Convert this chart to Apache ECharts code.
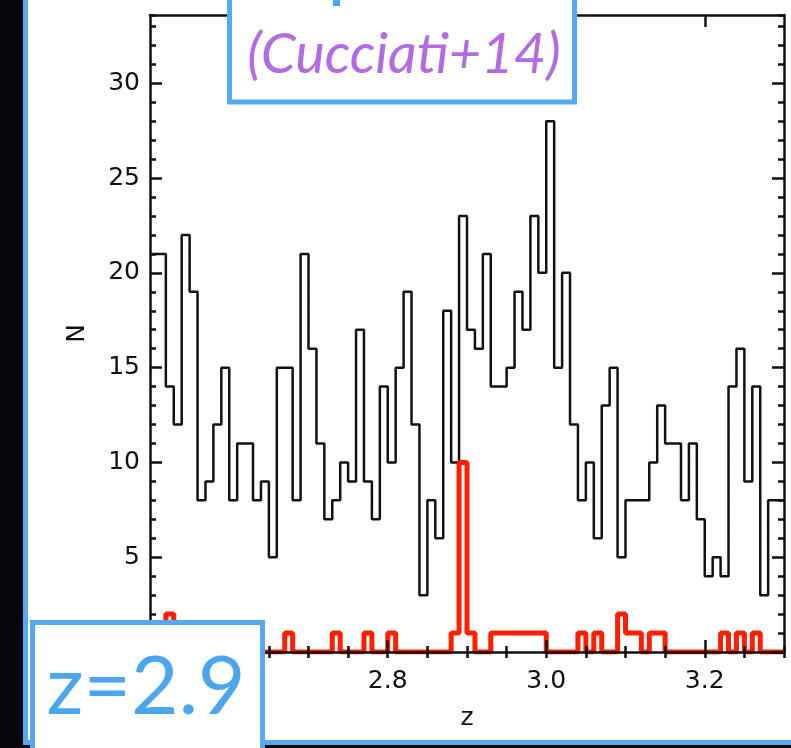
<!DOCTYPE html>
<html>
<head>
<meta charset="utf-8">
<script src="https://cdn.jsdelivr.net/npm/echarts@6/dist/echarts.min.js"></script>
<style>
  html, body { margin: 0; padding: 0; background: #fff; }
  #main { width: 791px; height: 748px; }
</style>
</head>
<body>
<div id="main"></div>
<script>
// histogram bins: z from 2.50, width 0.01
var binStart = 2.50;
var binWidth = 0.01;
// all galaxies (black)
var countsAll = [
    21, 21, 14, 12, 22, 19, 8, 9, 12, 15,
    8, 11, 11, 8, 9, 5, 15, 15, 8, 21,
    16, 11, 7, 8, 10, 9, 17, 9, 7, 14,
    10, 15, 19, 12, 3, 8, 6, 18, 10, 23,
    17, 16, 21, 14, 14, 15, 19, 17, 23, 20,
    28, 15, 20, 12, 8, 10, 6, 13, 15, 5,
    8, 8, 8, 10, 13, 11, 11, 8, 11, 7,
    4, 5, 4, 14, 16, 9, 14, 3, 8, 8
];
// protocluster members (red)
var countsPc = [
    0, 0, 2, 0, 0, 0, 0, 0, 0, 0,
    0, 0, 0, 0, 0, 0, 0, 1, 0, 0,
    0, 0, 0, 1, 0, 0, 0, 1, 0, 0,
    1, 0, 0, 0, 0, 0, 0, 0, 1, 10,
    1, 0, 0, 1, 1, 1, 1, 1, 1, 1,
    0, 0, 0, 0, 1, 0, 1, 0, 0, 2,
    1, 1, 0, 1, 1, 0, 0, 0, 0, 0,
    0, 0, 1, 0, 1, 0, 1, 0, 0, 0
];
var xMajorTicks = [2.6, 2.8, 3.0, 3.2];
var xLabels = [2.6, 2.8, 3.0, 3.2];
var yMajorTicks = [0, 5, 10, 15, 20, 25, 30];
var yLabels = [5, 10, 15, 20, 25, 30];

function steps(counts) {
    var pts = [];
    for (var i = 0; i < counts.length; i++) {
        pts.push([+(binStart + i * binWidth).toFixed(2), counts[i]]);
    }
    pts.push([+(binStart + counts.length * binWidth).toFixed(2), counts[counts.length - 1]]);
    return pts;
}

var blue = '#56a9f0';
var ink = '#111';
var tickFont = {fontFamily: 'DejaVu Sans', fontSize: 25, color: ink};

function xAxisPair(pos) {
    return [{
        type: 'value', position: pos, min: 2.5, max: 3.3, z: 3,
        axisLine: {show: true, onZero: false, lineStyle: {color: ink, width: 2.5}},
        axisTick: {show: true, inside: true, length: 12, customValues: xMajorTicks, lineStyle: {color: ink, width: 2.5}},
        axisLabel: pos === 'bottom' ? Object.assign({
            customValues: xLabels, margin: 17,
            formatter: function (v) { return v.toFixed(1); }
        }, tickFont) : {show: false},
        splitLine: {show: false},
        name: pos === 'bottom' ? 'z' : '',
        nameLocation: 'middle', nameGap: 54,
        nameTextStyle: tickFont
    }, {
        type: 'value', position: pos, min: 2.5, max: 3.3, interval: 0.05, z: 3,
        axisLine: {show: false},
        axisTick: {show: true, inside: true, length: 6, lineStyle: {color: ink, width: 2.5}},
        axisLabel: {show: false},
        splitLine: {show: false}
    }];
}
function yAxisPair(pos) {
    return [{
        type: 'value', position: pos, min: 0, max: 33.6, z: 3,
        axisLine: {show: true, onZero: false, lineStyle: {color: ink, width: 2.5}},
        axisTick: {show: true, inside: true, length: 12, customValues: yMajorTicks, lineStyle: {color: ink, width: 2.5}},
        axisLabel: pos === 'left' ? Object.assign({customValues: yLabels, margin: 10}, tickFont) : {show: false},
        splitLine: {show: false},
        name: pos === 'left' ? 'N' : '',
        nameLocation: 'middle', nameGap: 60, nameRotate: 90,
        nameTextStyle: tickFont
    }, {
        type: 'value', position: pos, min: 0, max: 33.6, interval: 1, z: 3,
        axisLine: {show: false},
        axisTick: {show: true, inside: true, length: 6, lineStyle: {color: ink, width: 2.5}},
        axisLabel: {show: false},
        splitLine: {show: false}
    }];
}

var chart = echarts.init(document.getElementById('main'));
chart.setOption({
    backgroundColor: '#fff',
    animation: false,
    grid: {left: 150, right: 7, top: 15, bottom: 96},
    xAxis: xAxisPair('bottom').concat(xAxisPair('top')),
    yAxis: yAxisPair('left').concat(yAxisPair('right')),
    series: [{
        type: 'line', step: 'end', data: steps(countsAll),
        symbol: 'none', z: 2,
        lineStyle: {color: ink, width: 2.5}
    }, {
        type: 'line', step: 'end', data: steps(countsPc),
        symbol: 'none', z: 2,
        lineStyle: {color: '#ff1e00', width: 5}
    }],
    graphic: [
        // dark background and panel border
        {type: 'rect', z: 100, shape: {x: 0, y: 0, width: 23, height: 748}, style: {fill: '#06070c'}},
        {type: 'rect', z: 100, shape: {x: 23, y: 0, width: 5, height: 745}, style: {fill: blue}},
        {type: 'rect', z: 100, shape: {x: 0, y: 745, width: 791, height: 3}, style: {fill: '#06070c'}},
        {type: 'rect', z: 100, shape: {x: 23, y: 740, width: 768, height: 5}, style: {fill: blue}},
        // reference box
        {type: 'rect', z: 101, shape: {x: 229.5, y: -10, width: 345, height: 112}, style: {fill: '#fff', stroke: blue, lineWidth: 5}},
        {type: 'rect', z: 102, shape: {x: 333, y: 0, width: 7, height: 6}, style: {fill: '#4aa6ee'}},
        {type: 'text', z: 102, x: 404, y: 55, style: {
            text: '(Cucciati+14)', fill: '#b36ae2', font: 'italic 56px Lato',
            align: 'center', verticalAlign: 'middle'}},
        // redshift box
        {type: 'rect', z: 101, shape: {x: 32.5, y: 622.5, width: 230, height: 140}, style: {fill: '#fff', stroke: blue, lineWidth: 5}},
        {type: 'text', z: 102, x: 146, y: 688, style: {
            text: 'z=2.9', fill: '#4aa6ee', font: '82px Lato',
            align: 'center', verticalAlign: 'middle'}}
    ]
});
</script>
</body>
</html>
